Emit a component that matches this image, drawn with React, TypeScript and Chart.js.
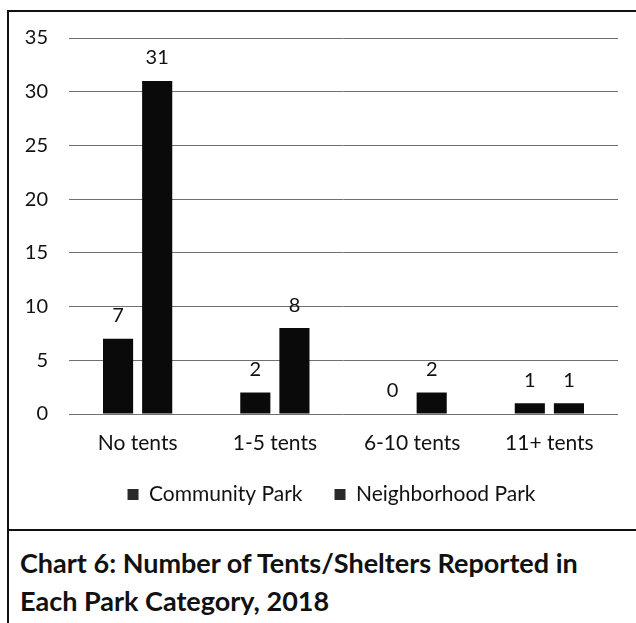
import React, { useEffect, useRef } from 'react';
import { Chart, registerables } from 'chart.js';

Chart.register(...registerables);

const categories = ['No tents', '1-5 tents', '6-10 tents', '11+ tents'];
const seriesNames = ['Community Park', 'Neighborhood Park'];
const communityPark = [7, 2, 0, 1];
const neighborhoodPark = [31, 8, 2, 1];
const yMax = 35;
const yStep = 5;
const titleLines = ['Chart 6: Number of Tents/Shelters Reported in', 'Each Park Category, 2018'];

const FONT = 'Lato, "Open Sans", sans-serif';

const valueLabels = {
  id: 'valueLabels',
  afterDatasetsDraw(chart: any) {
    const ctx = chart.ctx;
    ctx.save();
    ctx.fillStyle = '#111';
    ctx.font = `20px ${FONT}`;
    ctx.textAlign = 'center';
    ctx.textBaseline = 'middle';
    chart.data.datasets.forEach((ds: any, i: number) => {
      const meta = chart.getDatasetMeta(i);
      meta.data.forEach((el: any, j: number) => {
        ctx.fillText(String(ds.data[j]), el.x, el.y - 23);
      });
    });
    ctx.restore();
  },
};

const legendShift = {
  id: 'legendShift',
  afterLayout(chart: any) {
    if (chart.legend) {
      chart.legend.left += 18;
      chart.legend.right += 18;
    }
  },
};

export default function App() {
  const ref = useRef<HTMLCanvasElement>(null);
  useEffect(() => {
    if (!ref.current) return;
    const chart = new Chart(ref.current, {
      type: 'bar',
      data: {
        labels: categories,
        datasets: [
          { label: seriesNames[0], data: communityPark, backgroundColor: '#0a0a0a', borderWidth: 0 },
          { label: seriesNames[1], data: neighborhoodPark, backgroundColor: '#0a0a0a', borderWidth: 0 },
        ],
      },
      options: {
        responsive: false,
        animation: false,
        devicePixelRatio: 1,
        datasets: { bar: { categoryPercentage: 0.57, barPercentage: 0.77 } },
        layout: { padding: { left: 9, right: 18, top: 38, bottom: 0 } },
        plugins: {
          legend: {
            position: 'bottom',
            labels: {
              boxWidth: 11,
              boxHeight: 11,
              padding: 32,
              color: '#111',
              font: { family: FONT, size: 21 },
              generateLabels: (c: any) =>
                c.data.datasets.map((d: any, i: number) => ({
                  text: d.label,
                  fillStyle: '#2a2a2a',
                  strokeStyle: '#2a2a2a',
                  lineWidth: 0,
                  datasetIndex: i,
                  hidden: false,
                  fontColor: '#111',
                })),
            },
          },
          tooltip: { enabled: false },
          title: { display: false },
        },
        scales: {
          x: {
            grid: { display: false, drawTicks: false },
            border: { display: false },
            ticks: { color: '#111', font: { family: FONT, size: 21 }, padding: 17 },
            afterFit: (s: any) => { s.height = 38; },
          },
          y: {
            min: 0,
            max: yMax,
            grid: { color: '#707070', lineWidth: 1, drawTicks: false },
            border: { display: false },
            ticks: { stepSize: yStep, color: '#111', font: { family: FONT, size: 20 }, padding: 21 },
            afterFit: (s: any) => { s.width = 60; },
          },
        },
      },
      plugins: [valueLabels, legendShift],
    });
    return () => chart.destroy();
  }, []);

  return (
    <div style={{ position: 'fixed', left: 0, top: 0, width: 636, height: 623, background: '#fff', overflow: 'hidden' }}>
      <div style={{ position: 'absolute', left: 7, top: 10, width: 629, height: 2, background: '#111' }} />
      <div style={{ position: 'absolute', left: 7, top: 10, width: 2, height: 613, background: '#111' }} />
      <div style={{ position: 'absolute', left: 7, top: 529, width: 629, height: 2, background: '#111' }} />
      <canvas ref={ref} width={636} height={515} style={{ position: 'absolute', left: 0, top: 0, width: 636, height: 515 }} />
      <div style={{ position: 'absolute', left: 20, top: 544, fontFamily: FONT, fontWeight: 'bold', fontSize: 27, lineHeight: '38px', color: '#111', whiteSpace: 'nowrap' }}>
        {titleLines.map((t, i) => <div key={i}>{t}</div>)}
      </div>
    </div>
  );
}
